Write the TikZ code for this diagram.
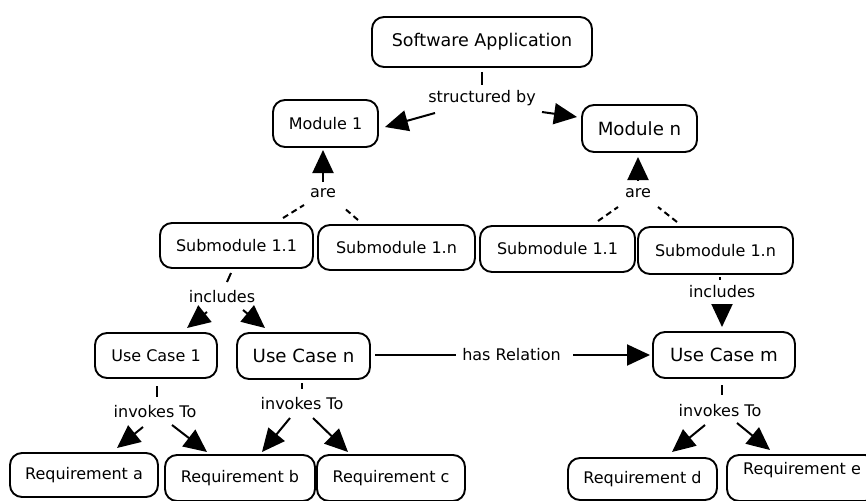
\documentclass[tikz,border=0pt]{standalone}
\usepackage{fontspec}
\setmainfont{DejaVu Sans}
\usetikzlibrary{arrows.meta}

\tikzset{
  concept/.style={draw, line width=1.9pt, rounded corners=12pt, inner sep=0pt,
    font=\fontsize{16}{18}\selectfont, text=black},
  bigtext/.style={font=\fontsize{18.2}{20}\selectfont},
  linklabel/.style={inner sep=1pt, font=\fontsize{16}{18}\selectfont, text=black},
  link/.style={line width=2pt},
  linkarrow/.style={line width=2pt, -{Triangle[length=23pt,width=21pt]}},
  linkdash/.style={line width=2pt, dash pattern=on 6pt off 4pt}
}

\begin{document}
\begin{tikzpicture}[x=1pt,y=-1pt]
\useasboundingbox (0,0) rectangle (866,500);
\clip (0,0) rectangle (866,500);

% concepts
\node[concept, font=\fontsize{17.5}{20}\selectfont, minimum width=220pt, minimum height=50pt] (sa) at (482,42) {Software Application};
\node[concept, minimum width=105pt, minimum height=47pt] (m1) at (325.5,123.5) {Module 1};
\node[concept, bigtext, minimum width=115pt, minimum height=47pt] (mn) at (639.5,128.5) {Module n};

\node[concept, minimum width=153pt, minimum height=45pt] (s11L) at (236.5,245.5) {Submodule 1.1};
\node[concept, minimum width=157pt, minimum height=45pt] (s1nL) at (396.5,247.5) {Submodule 1.n};
\node[concept, minimum width=155pt, minimum height=46pt] (s11R) at (557.5,249) {Submodule 1.1};
\node[concept, minimum width=155pt, minimum height=47pt] (s1nR) at (715.5,250.5) {Submodule 1.n};

\node[concept, minimum width=122pt, minimum height=45pt] (uc1) at (156,355.5) {Use Case 1};
\node[concept, bigtext, minimum width=133pt, minimum height=46pt] (ucn) at (303.5,356) {Use Case n};
\node[concept, bigtext, minimum width=142pt, minimum height=46pt] (ucm) at (724,355) {Use Case m};

\node[concept, minimum width=148pt, minimum height=44pt] (ra) at (84,475) {Requirement a};
\node[concept, minimum width=150pt, minimum height=46pt] (rb) at (240,478) {Requirement b};
\node[concept, minimum width=148pt, minimum height=46pt] (rc) at (391,478) {Requirement c};
\node[concept, minimum width=149pt, minimum height=42pt] (rd) at (642.5,479) {Requirement d};
\node[concept, minimum width=150pt, minimum height=46pt, text depth=19pt] (re) at (802,478) {Requirement e};

% linking phrases
\node[linklabel] (sb) at (482,98) {structured by};
\node[linklabel] (areL) at (323,193) {are};
\node[linklabel] (areR) at (638,193) {are};
\node[linklabel] (incL) at (222,297) {includes};
\node[linklabel] (incR) at (722,292) {includes};
\node[linklabel] (hr) at (511.5,355) {has Relation};
\node[linklabel] (invL) at (155,412) {invokes To};
\node[linklabel] (invM) at (302,404) {invokes To};
\node[linklabel] (invR) at (720,411) {invokes To};

% Software Application -> modules
\draw[link] ([shift={(0,30)}]sa.center) -- ([shift={(0,-13)}]sb.center);
\draw[linkarrow] ([shift={(-47,15)}]sb.center) -- ([shift={(59.5,3.5)}]m1.center);
\draw[linkarrow] ([shift={(60,14)}]sb.center) -- ([shift={(-62.5,-11.5)}]mn.center);

% submodules -> modules
\draw[linkarrow] ([shift={(0,-11)}]areL.center) -- ([shift={(-2.5,26.5)}]m1.center);
\draw[linkdash] ([shift={(46.5,-27.5)}]s11L.center) -- ([shift={(-19,12)}]areL.center);
\draw[linkdash] ([shift={(-38.5,-27.5)}]s1nL.center) -- ([shift={(20,14)}]areL.center);
\draw[linkarrow] ([shift={(0,-13)}]areR.center) -- ([shift={(-1.5,28.5)}]mn.center);
\draw[linkdash] ([shift={(40.5,-28)}]s11R.center) -- ([shift={(-20,14)}]areR.center);
\draw[linkdash] ([shift={(-38.5,-28.5)}]s1nR.center) -- ([shift={(20,14)}]areR.center);

% submodules -> use cases
\draw[link] ([shift={(-5.5,27.5)}]s11L.center) -- ([shift={(5,-15)}]incL.center);
\draw[linkarrow] ([shift={(-15,15)}]incL.center) -- ([shift={(31,-27.5)}]uc1.center);
\draw[linkarrow] ([shift={(21,13)}]incL.center) -- ([shift={(-38.5,-28)}]ucn.center);
\draw[link] ([shift={(4.5,26.5)}]s1nR.center) -- ([shift={(-2,-12)}]incR.center);
\draw[linkarrow] ([shift={(0,13)}]incR.center) -- ([shift={(-2,-28)}]ucm.center);

% relation between use cases
\draw[link] ([shift={(71.5,-1)}]ucn.center) -- ([shift={(-56,0)}]hr.center);
\draw[linkarrow] ([shift={(61.5,0)}]hr.center) -- ([shift={(-74,0)}]ucm.center);

% use cases -> requirements
\draw[link] ([shift={(1,30.5)}]uc1.center) -- ([shift={(2,-15)}]invL.center);
\draw[linkarrow] ([shift={(-12,15)}]invL.center) -- ([shift={(33,-27)}]ra.center);
\draw[linkarrow] ([shift={(17,13)}]invL.center) -- ([shift={(-33,-26)}]rb.center);
\draw[link] ([shift={(-1.5,27)}]ucn.center) -- ([shift={(0,-15)}]invM.center);
\draw[linkarrow] ([shift={(-12,14)}]invM.center) -- ([shift={(22,-26)}]rb.center);
\draw[linkarrow] ([shift={(11,14)}]invM.center) -- ([shift={(-43,-26)}]rc.center);
\draw[link] ([shift={(-2,30)}]ucm.center) -- ([shift={(2,-16)}]invR.center);
\draw[linkarrow] ([shift={(-15,14)}]invR.center) -- ([shift={(29.5,-27)}]rd.center);
\draw[linkarrow] ([shift={(17,12)}]invR.center) -- ([shift={(-32,-28)}]re.center);
\end{tikzpicture}
\end{document}
